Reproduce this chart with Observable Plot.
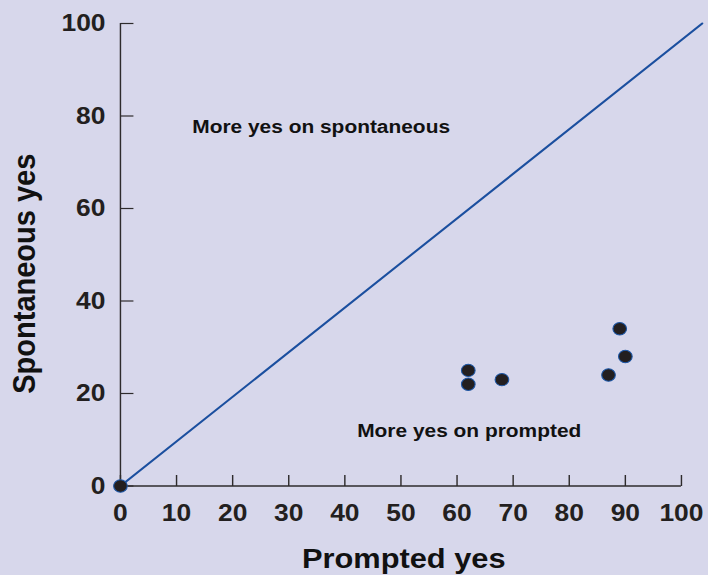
<!DOCTYPE html>
<html>
<head>
<meta charset="utf-8">
<script src="https://cdn.jsdelivr.net/npm/d3@7"></script>
<script src="https://cdn.jsdelivr.net/npm/@observablehq/plot@0.6"></script>
<style>
  html, body { margin: 0; padding: 0; background: #d7d7eb; overflow: hidden; width: 708px; height: 575px; }
  #chart svg { display: block; }
</style>
</head>
<body>
<div id="chart"></div>
<script>
// ---- data ----
const prompted    = [0, 62, 62, 68, 87, 89, 90];
const spontaneous = [0, 25, 22, 23, 24, 34, 28];
const diagonalX = [0, 103.7];
const diagonalY = [0, 100];
const xTicks = [0, 10, 20, 30, 40, 50, 60, 70, 80, 90, 100];
const yTicks = [0, 20, 40, 60, 80, 100];
const xDomain = [0, 100];
const yDomain = [0, 100];
const annotations = ["More yes on spontaneous", "More yes on prompted"];
const annotationX = [12.8, 42.2];
const annotationY = [77.7, 12.0];
const xTitle = "Prompted yes";
const yTitle = "Spontaneous yes";

// ---- style ----
const textColor = "#231f20";
const axisColor = "#2e2b2c";
const lineBlue = "#1b4f9f";
const font = "'Liberation Sans', Arial, Helvetica, sans-serif";

const points = prompted.map((x, i) => ({x, y: spontaneous[i]}));
const diagonal = diagonalX.map((x, i) => ({x, y: diagonalY[i]}));
const tickShape = {draw(ctx, l) { ctx.moveTo(0, 0); ctx.lineTo(0, -l); }};

const chart = Plot.plot({
  width: 644,
  height: 575,
  marginLeft: 109,
  marginRight: 25,
  marginTop: 23,
  marginBottom: 89.5,
  style: {background: "#d7d7eb", fontFamily: font, color: textColor},
  x: {domain: xDomain},
  y: {domain: yDomain},
  marks: [
    Plot.ruleX([xDomain[0]], {y1: yDomain[0], y2: yDomain[1], stroke: axisColor, strokeWidth: 1.3}),
    Plot.ruleY([yDomain[0]], {x1: xDomain[0], x2: xDomain[1], stroke: axisColor, strokeWidth: 1.3}),
    Plot.vector(yTicks, {x: xDomain[0], y: d => d, length: 11.8, rotate: 90, anchor: "start",
      shape: tickShape, stroke: axisColor, strokeWidth: 1.2, strokeLinecap: "butt"}),
    Plot.vector(xTicks, {x: d => d, y: yDomain[0], length: 11, rotate: 0, anchor: "start",
      shape: tickShape, stroke: axisColor, strokeWidth: 1.3, strokeLinecap: "butt"}),
    Plot.axisY(yTicks, {tickSize: 0, tickPadding: 13.6, fontSize: 24, fontWeight: "bold",
      fill: textColor, label: null, tickFormat: d => d}),
    Plot.axisX(xTicks, {tickSize: 0, tickPadding: 18, fontSize: 24, fontWeight: "bold",
      fill: textColor, label: null, tickFormat: d => d}),
    Plot.line(diagonal, {x: "x", y: "y", stroke: lineBlue, strokeWidth: 2}),
    Plot.dot(points, {x: "x", y: "y", r: 6.2, fill: textColor, stroke: "#1d56a5", strokeWidth: 1}),
    Plot.text(annotations, {x: (d, i) => annotationX[i], y: (d, i) => annotationY[i], text: d => d,
      textAnchor: "start", lineAnchor: "middle", fontSize: 19, fontWeight: "bold", fill: "#111"}),
    Plot.text([xTitle], {x: 50.5, y: yDomain[0], dy: 73, text: d => d, textAnchor: "middle",
      lineAnchor: "middle", fontSize: 28, fontWeight: "bold", fill: "#111"}),
    Plot.text([yTitle], {x: -17, y: 45.9, text: d => d, rotate: -90, textAnchor: "middle",
      lineAnchor: "middle", fontSize: 29, fontWeight: "bold", fill: "#111"})
  ]
});
chart.style.transform = "scaleX(1.1)";
chart.style.transformOrigin = "0 0";
chart.style.overflow = "visible";
document.getElementById("chart").appendChild(chart);
</script>
</body>
</html>
